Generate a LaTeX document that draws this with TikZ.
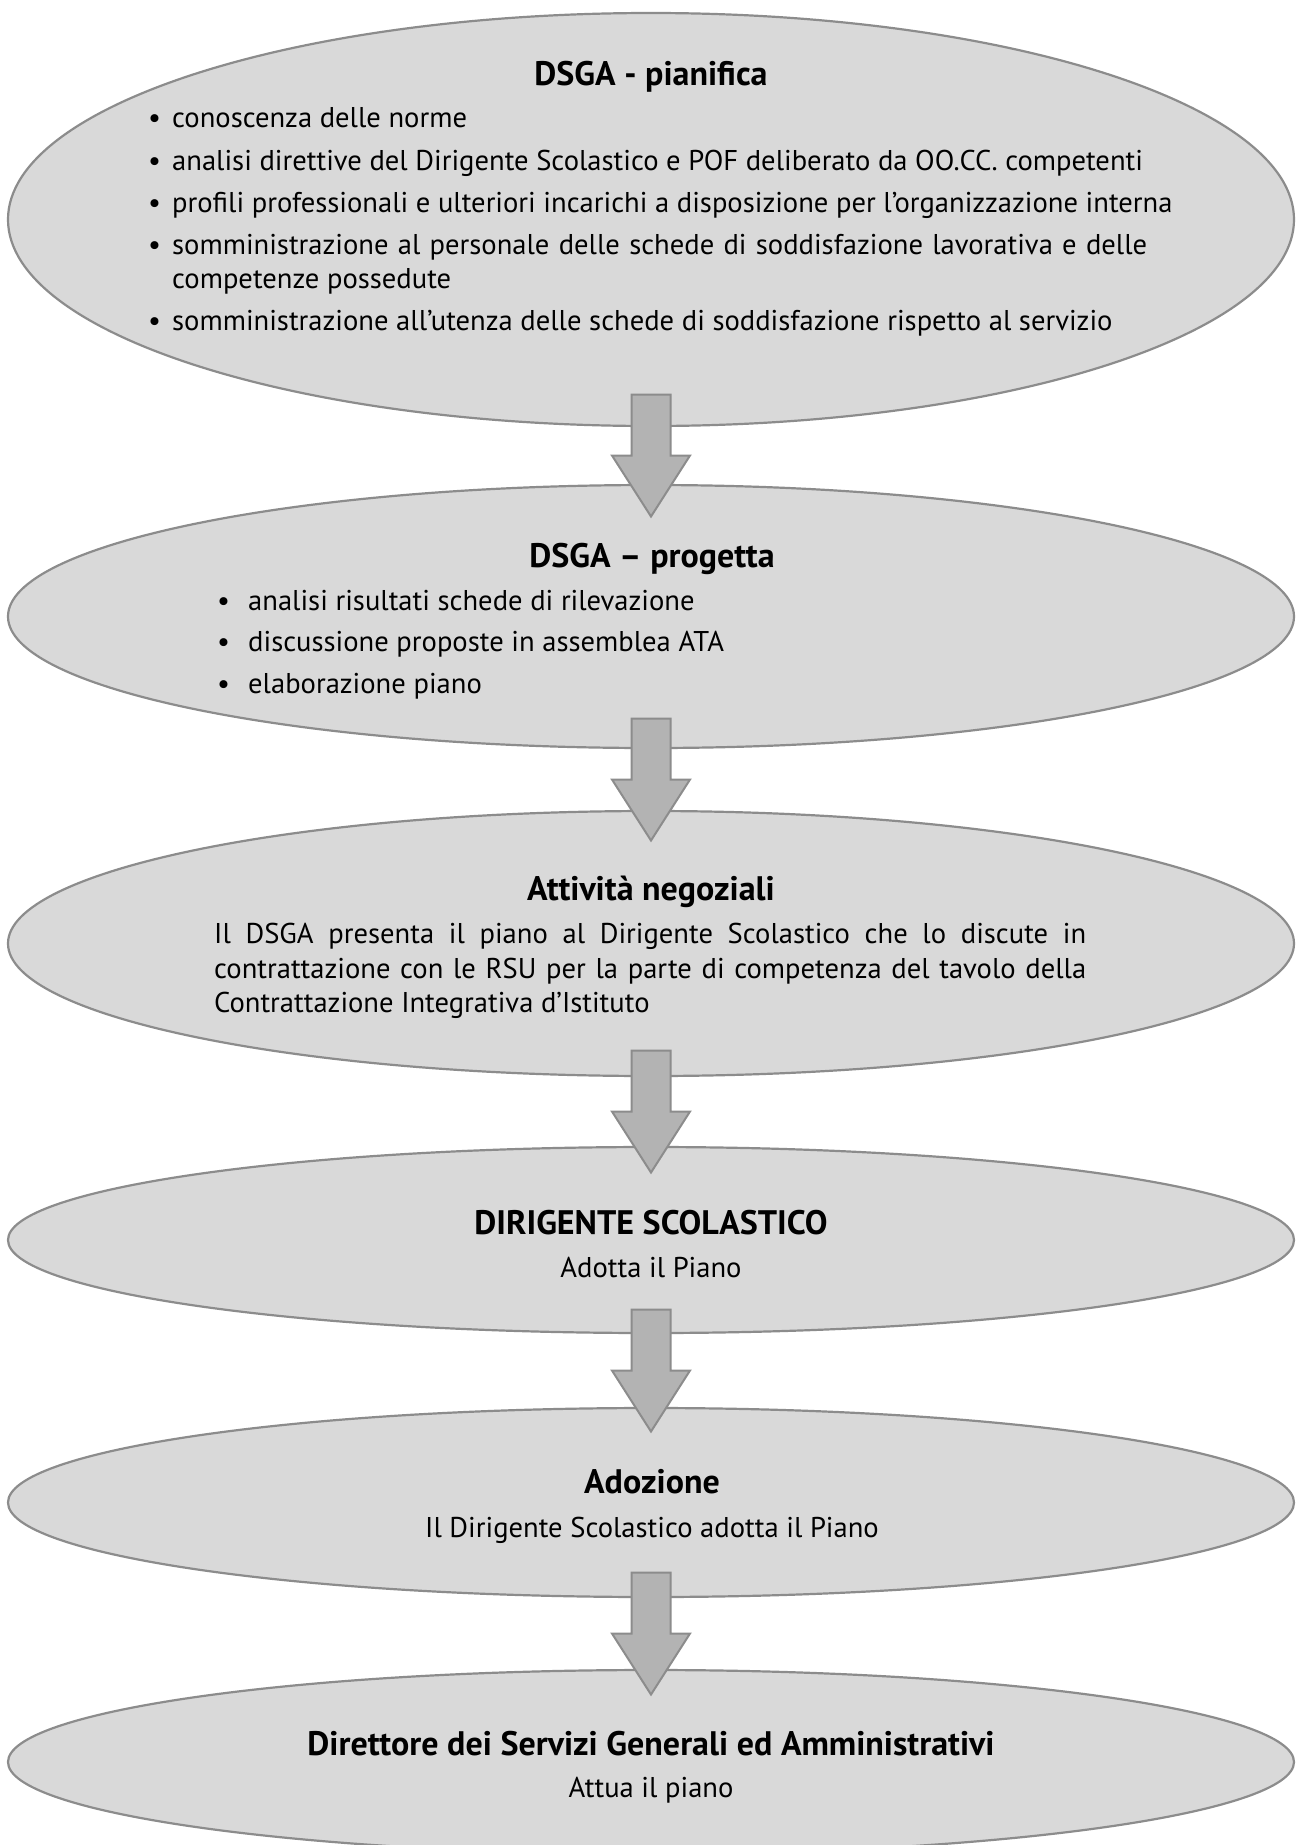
\documentclass[tikz,border=0pt]{standalone}
\usepackage{fontspec}
\setmainfont{PT Sans}
\usetikzlibrary{shapes.geometric,calc}
\definecolor{ellfill}{HTML}{D9D9D9}
\definecolor{ellline}{HTML}{8C8C8C}
\definecolor{arrfill}{HTML}{B3B3B3}
\newcommand\blkarrow[3]{%
  \coordinate (#1m) at ($(#2.south)!0.5!(#3.north)$);
  \coordinate (#1s) at ($(#1m)+(0,-61)$);
  \coordinate (#1t) at ($(#1m)+(0,61)$);
  \draw[blockarrow] ($(#1s)+(-19.5,0)$) -- ($(#1m)+(-19.5,0)$) -- ($(#1m)+(-39,0)$)
    -- (#1t) -- ($(#1m)+(39,0)$) -- ($(#1m)+(19.5,0)$) -- ($(#1s)+(19.5,0)$) -- cycle;}
\begin{document}
\begin{tikzpicture}[x=1pt,y=-1pt,
  ell/.style={ellipse, draw=ellline, fill=ellfill, line width=2.2pt, inner sep=0pt, minimum width=1286pt},
  blockarrow/.style={draw=ellline, fill=arrfill, line width=2pt, line join=miter},
  ttl/.style={font=\fontsize{34}{40}\selectfont\bfseries, anchor=base, inner sep=0pt},
  txt/.style={font=\fontsize{28.6}{36}\selectfont, anchor=base west, inner sep=0pt},
  ctxt/.style={font=\fontsize{28.6}{36}\selectfont, anchor=base, inner sep=0pt}]
\useasboundingbox (0,0) rectangle (1298,1845);
\clip (0,0) rectangle (1298,1845);
\fill[white] (0,0) rectangle (1298,1845);

% ellipses
\node[ell, minimum height=413pt] (e1) at (651,219.5) {};
\node[ell, minimum height=263pt] (e2) at (651,616.5) {};
\node[ell, minimum height=265pt] (e3) at (651,943.5) {};
\node[ell, minimum height=186pt] (e4) at (651,1240) {};
\node[ell, minimum height=189pt] (e5) at (651,1502.5) {};
\node[ell, minimum height=184pt] (e6) at (651,1762) {};

% arrows
\blkarrow{a1}{e1}{e2}
\blkarrow{a2}{e2}{e3}
\blkarrow{a3}{e3}{e4}
\blkarrow{a4}{e4}{e5}
\blkarrow{a5}{e5}{e6}

% box 1
\node[ttl] (t1) at (651,85) {DSGA - pianifica};
\node[txt] (b11) at (148,127) {•};
\node[txt] (l11) at (172,127) {conoscenza delle norme};
\node[txt] (b12) at (148,170) {•};
\node[txt] (l12) at (172,170) {analisi direttive del Dirigente Scolastico e POF deliberato da OO.CC. competenti};
\node[txt] (b13) at (148,212) {•};
\node[txt] (l13) at (172,212) {profili professionali e ulteriori incarichi a disposizione per l’organizzazione interna};
\node[txt] (b14) at (148,254) {•};
\node[txt] (l14) at (172,254) {\makebox[975pt][s]{somministrazione al personale delle schede di soddisfazione lavorativa e delle}};
\node[txt] (l15) at (172,288) {competenze possedute};
\node[txt] (b16) at (148,330) {•};
\node[txt] (l16) at (172,330) {somministrazione all’utenza delle schede di soddisfazione rispetto al servizio};

% box 2
\node[ttl] (t2) at (652,567) {DSGA – progetta};
\node[txt] (b21) at (217,610) {•};
\node[txt] (l21) at (248,610) {analisi risultati schede di rilevazione};
\node[txt] (b22) at (217,651) {•};
\node[txt] (l22) at (248,651) {discussione proposte in assemblea ATA};
\node[txt] (b23) at (217,693) {•};
\node[txt] (l23) at (248,693) {elaborazione piano};

% box 3
\node[ttl] (t3) at (651,900) {Attività negoziali};
\node[txt] (l31) at (214,943) {\makebox[872pt][s]{Il DSGA presenta il piano al Dirigente Scolastico che lo discute in}};
\node[txt] (l32) at (214,978) {\makebox[872pt][s]{contrattazione con le RSU per la parte di competenza del tavolo della}};
\node[txt] (l33) at (214,1012) {Contrattazione Integrativa d’Istituto};

% box 4
\node[ttl] (t4) at (651,1234) {DIRIGENTE SCOLASTICO};
\node[ctxt] (s4) at (651,1277) {Adotta il Piano};

% box 5
\node[ttl] (t5) at (652,1493) {Adozione};
\node[ctxt] (s5) at (652,1537) {Il Dirigente Scolastico adotta il Piano};

% box 6
\node[ttl] (t6) at (651,1755) {Direttore dei Servizi Generali ed Amministrativi};
\node[ctxt] (s6) at (651,1797) {Attua il piano};
\end{tikzpicture}
\end{document}
